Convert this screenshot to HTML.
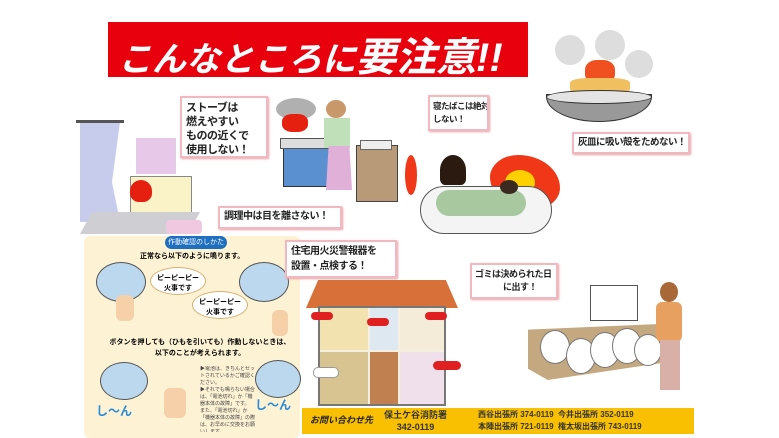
<!DOCTYPE html>
<html><head><meta charset="utf-8"><style>
body{margin:0;width:779px;height:438px;background:#fff;position:relative;overflow:hidden;font-family:"Liberation Sans","Noto Sans CJK JP",sans-serif;}
.a{position:absolute}
.box{position:absolute;background:#fff;border:2px solid #f0b8c0;box-shadow:1px 1px 2px #e8a0a8;font-weight:bold;font-size:10px;line-height:14px;color:#222;padding:3px 4px;box-sizing:border-box;white-space:nowrap;letter-spacing:-0.5px;overflow:hidden}
</style></head><body>
<!-- banner -->
<div class="a" style="left:108px;top:22px;width:420px;height:55px;background:#e8000d"></div>
<div class="a" style="left:118px;top:25px;color:#fff;font-size:34px;font-style:italic;font-weight:bold;white-space:nowrap">こんなところに<span style="font-size:40px">要注意!!</span></div>

<!-- left yellow panel -->
<div class="a" style="left:84px;top:236px;width:216px;height:202px;background:#fdf3d4;border-radius:6px"></div>
<div class="a" style="left:165px;top:236px;width:62px;height:13px;background:#1f6fc0;border-radius:7px;color:#fff;font-size:7px;text-align:center;line-height:13px;white-space:nowrap;overflow:hidden">作動確認のしかた</div>
<div class="a" style="left:140px;top:251px;font-size:7px;font-weight:bold;white-space:nowrap">正常なら以下のように鳴ります。</div>
<div class="a" style="left:96px;top:262px;width:48px;height:38px;background:#bcd8ee;border:1px solid #555;border-radius:50%"></div>
<div class="a" style="left:239px;top:262px;width:48px;height:38px;background:#bcd8ee;border:1px solid #555;border-radius:50%"></div>
<div class="a" style="left:150px;top:267px;width:56px;height:28px;background:#fff;border:1px solid #d8b070;border-radius:50%;font-size:7px;font-weight:bold;text-align:center;padding-top:5px;box-sizing:border-box;white-space:nowrap">ピーピーピー<br>火事です</div>
<div class="a" style="left:192px;top:291px;width:56px;height:28px;background:#fff;border:1px solid #d8b070;border-radius:50%;font-size:7px;font-weight:bold;text-align:center;padding-top:5px;box-sizing:border-box;white-space:nowrap">ピーピーピー<br>火事です</div>
<div class="a" style="left:116px;top:295px;width:18px;height:26px;background:#f5d0a8;border-radius:6px"></div>
<div class="a" style="left:272px;top:310px;width:16px;height:26px;background:#f5d0a8;border-radius:6px"></div>
<div class="a" style="left:100px;top:337px;font-size:7px;font-weight:bold;text-align:center;width:200px;line-height:11px;white-space:nowrap">ボタンを押しても（ひもを引いても）作動しないときは、<br>以下のことが考えられます。</div>
<div class="a" style="left:100px;top:362px;width:46px;height:36px;background:#bcd8ee;border:1px solid #555;border-radius:50%"></div>
<div class="a" style="left:255px;top:360px;width:44px;height:36px;background:#bcd8ee;border:1px solid #555;border-radius:50%"></div>
<div class="a" style="left:96px;top:402px;color:#2a8ad8;font-size:12px;font-weight:bold">し〜ん</div>
<div class="a" style="left:255px;top:396px;color:#2a8ad8;font-size:12px;font-weight:bold">し〜ん</div>
<div class="a" style="left:164px;top:388px;width:22px;height:30px;background:#f5d0a8;border-radius:6px"></div>
<div class="a" style="left:200px;top:366px;width:56px;height:66px;overflow:hidden;font-size:5px;line-height:7px;color:#444">▶電池は、きちんとセットされているかご確認ください。<br>▶それでも鳴らない場合は、「電池切れ」か「機器本体の故障」です。<br>また、「電池切れ」か「機器本体の故障」の際は、お早めに交換をお願いします。</div>

<!-- stove scene -->
<div class="a" style="left:80px;top:122px;width:40px;height:100px;background:#c8ccec;clip-path:polygon(0 0,100% 0,80% 60%,100% 100%,0 100%)"></div>
<div class="a" style="left:76px;top:120px;width:48px;height:3px;background:#555"></div>
<div class="a" style="left:136px;top:138px;width:40px;height:36px;background:#e8c8e8"></div>
<div class="a" style="left:130px;top:176px;width:60px;height:48px;background:#fbf3c8;border:1px solid #888"></div>
<div class="a" style="left:130px;top:180px;width:22px;height:22px;background:#e52010;border-radius:50% 50% 40% 40%"></div>
<div class="a" style="left:80px;top:212px;width:120px;height:22px;background:#cfcfd3;clip-path:polygon(10% 0,100% 0,90% 100%,0 100%)"></div>
<div class="a" style="left:166px;top:220px;width:36px;height:14px;background:#f0c8e0;border-radius:4px"></div>
<div class="box" style="left:180px;top:96px;width:88px;height:62px;font-size:11px">ストーブは<br>燃えやすい<br>ものの近くで<br>使用しない！</div>
<div class="box" style="left:218px;top:206px;width:124px;height:23px;padding-top:2px;font-size:10px">調理中は目を離さない！</div>

<!-- kitchen -->
<div class="a" style="left:276px;top:98px;width:40px;height:22px;background:#b0b0b0;border-radius:50%"></div>
<div class="a" style="left:282px;top:114px;width:26px;height:18px;background:#e52010;border-radius:40%"></div>
<div class="a" style="left:283px;top:147px;width:55px;height:38px;background:#5a8fd0;border:1px solid #333"></div>
<div class="a" style="left:280px;top:138px;width:60px;height:9px;background:#ddd;border:1px solid #555"></div>
<div class="a" style="left:326px;top:100px;width:20px;height:18px;background:#c9986a;border-radius:50%"></div>
<div class="a" style="left:324px;top:118px;width:26px;height:30px;background:#bfe0b8"></div>
<div class="a" style="left:326px;top:146px;width:26px;height:44px;background:#e0b0d8;clip-path:polygon(10% 0,90% 0,100% 100%,0 100%)"></div>
<div class="a" style="left:356px;top:145px;width:40px;height:55px;background:#b89a78;border:1px solid #444"></div>
<div class="a" style="left:360px;top:140px;width:30px;height:8px;background:#eee;border:1px solid #666"></div>

<!-- ashtray -->
<div class="a" style="left:555px;top:35px;width:30px;height:30px;background:#ddd;border-radius:50%"></div>
<div class="a" style="left:595px;top:30px;width:30px;height:30px;background:#ddd;border-radius:50%"></div>
<div class="a" style="left:625px;top:50px;width:28px;height:28px;background:#ddd;border-radius:50%"></div>
<div class="a" style="left:585px;top:60px;width:30px;height:24px;background:#f05020;border-radius:40%"></div>
<div class="a" style="left:570px;top:78px;width:60px;height:16px;background:#f0c060;border-radius:30%"></div>
<div class="a" style="left:546px;top:94px;width:104px;height:26px;background:#999;border:1px solid #333;border-radius:0 0 50% 50%/0 0 90% 90%"></div>
<div class="a" style="left:546px;top:90px;width:104px;height:12px;background:#e4e4e4;border:1px solid #333;border-radius:50%"></div>
<div class="box" style="left:428px;top:95px;width:61px;height:36px;font-size:8.5px;line-height:13px;padding:3px 3px">寝たばこは絶対<br>しない！</div>
<div class="box" style="left:572px;top:132px;width:118px;height:22px;font-size:9.5px;padding-top:2px">灰皿に吸い殻をためない！</div>

<!-- bed fire -->
<div class="a" style="left:490px;top:155px;width:70px;height:55px;background:#f03818;border-radius:40% 60% 40% 60%"></div>
<div class="a" style="left:505px;top:170px;width:30px;height:25px;background:#ffd000;border-radius:50%"></div>
<div class="a" style="left:405px;top:155px;width:12px;height:40px;background:#f03818;border-radius:50%"></div>
<div class="a" style="left:420px;top:186px;width:130px;height:46px;background:#f4f4f4;border:1px solid #555;border-radius:30px"></div>
<div class="a" style="left:436px;top:190px;width:90px;height:26px;background:#a8c8a0;border-radius:14px"></div>
<div class="a" style="left:440px;top:155px;width:26px;height:30px;background:#2a1a10;border-radius:50% 50% 20% 20%"></div>
<div class="a" style="left:500px;top:180px;width:18px;height:14px;background:#3a2a20;border-radius:50%"></div>

<!-- house -->
<div class="box" style="left:285px;top:240px;width:112px;height:38px;font-size:10px;line-height:15px;padding-top:2px">住宅用火災警報器を<br>設置・点検する！</div>
<div class="a" style="left:306px;top:280px;width:152px;height:28px;background:#d8703a;clip-path:polygon(8% 0,92% 0,100% 100%,0 100%)"></div>
<div class="a" style="left:318px;top:306px;width:128px;height:100px;background:#f4efe0;border:2px solid #777;box-sizing:border-box"></div>
<div class="a" style="left:320px;top:308px;width:48px;height:42px;background:#f2e2b0"></div>
<div class="a" style="left:370px;top:308px;width:28px;height:42px;background:#dde8f0"></div>
<div class="a" style="left:400px;top:308px;width:44px;height:42px;background:#f4ecd8"></div>
<div class="a" style="left:320px;top:352px;width:48px;height:52px;background:#d8c490"></div>
<div class="a" style="left:370px;top:352px;width:28px;height:52px;background:#c08050"></div>
<div class="a" style="left:400px;top:352px;width:44px;height:52px;background:#f0e0ec"></div>
<div class="a" style="left:311px;top:312px;width:22px;height:8px;background:#e02020;border-radius:5px"></div>
<div class="a" style="left:367px;top:318px;width:22px;height:8px;background:#e02020;border-radius:5px"></div>
<div class="a" style="left:425px;top:312px;width:22px;height:8px;background:#e02020;border-radius:5px"></div>
<div class="a" style="left:433px;top:361px;width:28px;height:9px;background:#e02020;border-radius:5px"></div>
<div class="a" style="left:313px;top:367px;width:24px;height:9px;background:#fff;border:1px solid #999;border-radius:5px"></div>

<!-- garbage -->
<div class="box" style="left:470px;top:263px;width:88px;height:36px;font-size:9px;line-height:13px;padding:3px 3px">ゴミは決められた日<br>&nbsp;&nbsp;&nbsp;&nbsp;&nbsp;&nbsp;&nbsp;&nbsp;&nbsp;&nbsp;&nbsp;&nbsp;&nbsp;&nbsp;に出す！</div>
<div class="a" style="left:590px;top:285px;width:46px;height:34px;background:#fff;border:1px solid #555"></div>
<div class="a" style="left:528px;top:324px;width:132px;height:56px;background:#c4a880;clip-path:polygon(0 10%,100% 0,100% 70%,15% 100%,0 80%)"></div>
<div class="a" style="left:540px;top:330px;width:28px;height:32px;background:#fff;border:1px solid #777;border-radius:50%"></div>
<div class="a" style="left:566px;top:338px;width:28px;height:34px;background:#fff;border:1px solid #777;border-radius:50%"></div>
<div class="a" style="left:590px;top:332px;width:28px;height:34px;background:#fff;border:1px solid #777;border-radius:50%"></div>
<div class="a" style="left:612px;top:328px;width:28px;height:34px;background:#fff;border:1px solid #777;border-radius:50%"></div>
<div class="a" style="left:634px;top:334px;width:26px;height:30px;background:#fff;border:1px solid #777;border-radius:50%"></div>
<div class="a" style="left:660px;top:282px;width:18px;height:20px;background:#a86838;border-radius:50%"></div>
<div class="a" style="left:656px;top:302px;width:26px;height:40px;background:#e8a060;border-radius:6px"></div>
<div class="a" style="left:660px;top:340px;width:20px;height:50px;background:#d8b0a8"></div>

<!-- contact bar -->
<div class="a" style="left:302px;top:408px;width:392px;height:26px;background:#f8c000"></div>
<div class="a" style="left:310px;top:413px;font-size:9px;font-weight:bold;font-style:italic;color:#222;white-space:nowrap">お問い合わせ先</div>
<div class="a" style="left:384px;top:409px;font-size:9px;font-weight:bold;color:#333;line-height:12px;text-align:center;white-space:nowrap">保土ケ谷消防署<br>342-0119</div>
<div class="a" style="left:478px;top:409px;font-size:8px;font-weight:bold;color:#333;line-height:12px;white-space:nowrap">西谷出張所 374-0119&nbsp;&nbsp;今井出張所 352-0119<br>本陣出張所 721-0119&nbsp;&nbsp;権太坂出張所 743-0119</div>
</body></html>
